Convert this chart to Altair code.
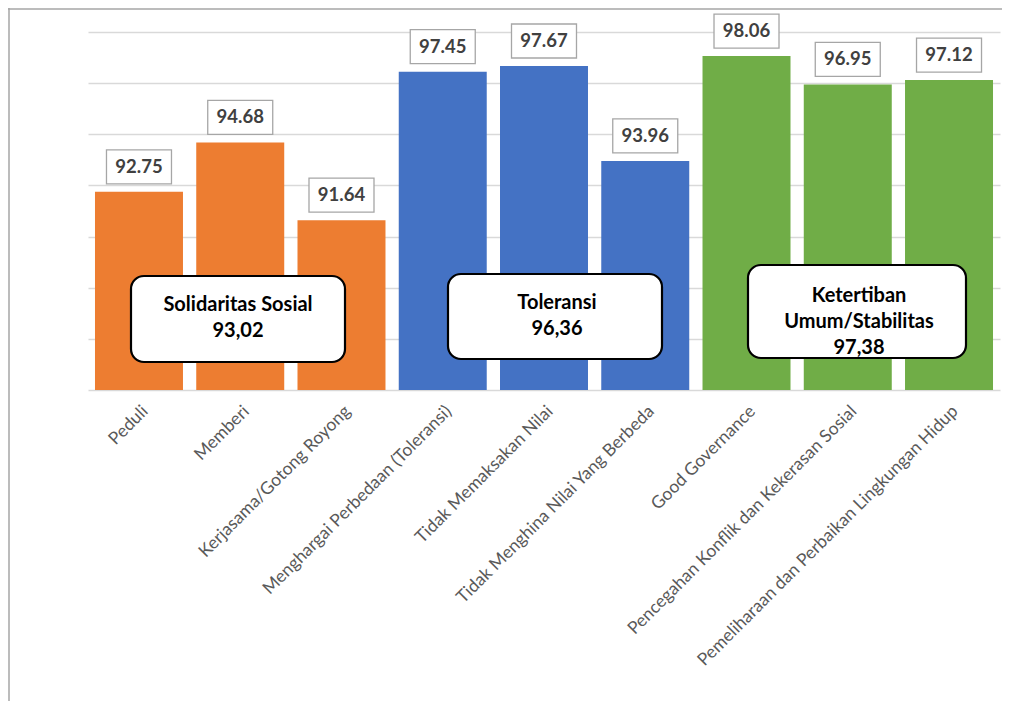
import altair as alt
import pandas as pd

categories = [
    "Peduli",
    "Memberi",
    "Kerjasama/Gotong Royong",
    "Menghargai Perbedaan (Toleransi)",
    "Tidak Memaksakan Nilai",
    "Tidak Menghina Nilai Yang Berbeda",
    "Good Governance",
    "Pencegahan Konflik dan Kekerasan Sosial",
    "Pemeliharaan dan Perbaikan Lingkungan Hidup",
]
values = [92.75, 94.68, 91.64, 97.45, 97.67, 93.96, 98.06, 96.95, 97.12]
bar_group = ["Solidaritas Sosial"] * 3 + ["Toleransi"] * 3 + ["Ketertiban Umum/Stabilitas"] * 3

group_names = ["Solidaritas Sosial", "Toleransi", "Ketertiban Umum/Stabilitas"]
group_title_lines = [["Solidaritas Sosial"], ["Toleransi"], ["Ketertiban", "Umum/Stabilitas"]]
group_scores = [93.02, 96.36, 97.38]
group_colors = ["#ED7D31", "#4472C4", "#70AD47"]

y_ticks = [85, 87, 89, 91, 93, 95, 97, 99]

df = pd.DataFrame({"category": categories, "value": values, "group": bar_group})

FONT = "Lato"

x_enc = alt.X(
    "category:N",
    sort=categories,
    scale=alt.Scale(paddingInner=0.131, paddingOuter=0.069),
    axis=alt.Axis(
        title=None, labelAngle=-45, labelFont=FONT, labelFontSize=17.5,
        labelColor="#595959", ticks=False, domain=False, labelPadding=12,
        grid=False, labelLimit=500,
    ),
)
y_enc = alt.Y(
    "value:Q",
    scale=alt.Scale(domain=[y_ticks[0], y_ticks[-1]], zero=False, nice=False),
    axis=alt.Axis(
        title=None, labels=False, ticks=False, domain=False, values=y_ticks,
        gridColor="#d9d9d9", gridWidth=1.3,
    ),
)

base = alt.Chart(df)

bars = base.mark_bar().encode(
    x=x_enc,
    y=y_enc,
    y2=alt.datum(y_ticks[0]),
    color=alt.Color("group:N", scale=alt.Scale(domain=group_names, range=group_colors), legend=None),
)

label_box = base.mark_point(
    shape="M-1,-0.523L1,-0.523L1,0.523L-1,0.523Z",
    size=4225, filled=True, fill="white", stroke="#a6a6a6", strokeWidth=1.3,
    opacity=1, yOffset=-25,
).encode(x=x_enc, y=y_enc)

label_text = base.mark_text(
    font=FONT, fontSize=18.5, fontWeight="bold", color="#404040",
    yOffset=-25, baseline="middle",
).encode(x=x_enc, y=y_enc, text=alt.Text("value:Q", format=".2f"))

layers = [bars, label_box, label_text]

# annotation boxes (pixel placement within plot area)
box_px = [(43, 257, 244, 330), (360, 574, 242, 327), (660, 878, 233, 326)]
text_px = [(150, 273), (469, 271), (771, 264)]

for name, lines, score, (x0, x1, y0, y1), (cx, cy) in zip(
    group_names, group_title_lines, group_scores, box_px, text_px
):
    d = pd.DataFrame({"group": [name]})
    box = alt.Chart(d).mark_rect(
        cornerRadius=13, fill="white", stroke="black", strokeWidth=2.2
    ).encode(x=alt.value(x0), x2=alt.value(x1), y=alt.value(y0), y2=alt.value(y1))
    txt_lines = lines + [f"{score:.2f}".replace(".", ",")]
    txt = alt.Chart(d).mark_text(
        text=txt_lines, font=FONT, fontSize=20, fontWeight="bold", color="black",
        lineHeight=26, baseline="middle", align="center",
    ).encode(x=alt.value(cx), y=alt.value(cy))
    layers += [box, txt]

frame_d = pd.DataFrame({"f": [0]})
frame_top = alt.Chart(frame_d).mark_rule(color="#a6a6a6", strokeWidth=1.5).encode(
    x=alt.value(-80), x2=alt.value(914), y=alt.value(-23)
)
frame_left = alt.Chart(frame_d).mark_rule(color="#a6a6a6", strokeWidth=1.5).encode(
    x=alt.value(-79), y=alt.value(-24), y2=alt.value(669)
)
layers += [frame_top, frame_left]

chart = alt.layer(*layers).properties(
    width=912,
    height=358,
    padding={"left": 80, "top": 24, "right": 2, "bottom": 311},
    autosize=alt.AutoSizeParams(type="none"),
    background="white",
).configure_view(stroke=None)

chart.save("out.html", embed_options={"renderer": "svg", "actions": False})
